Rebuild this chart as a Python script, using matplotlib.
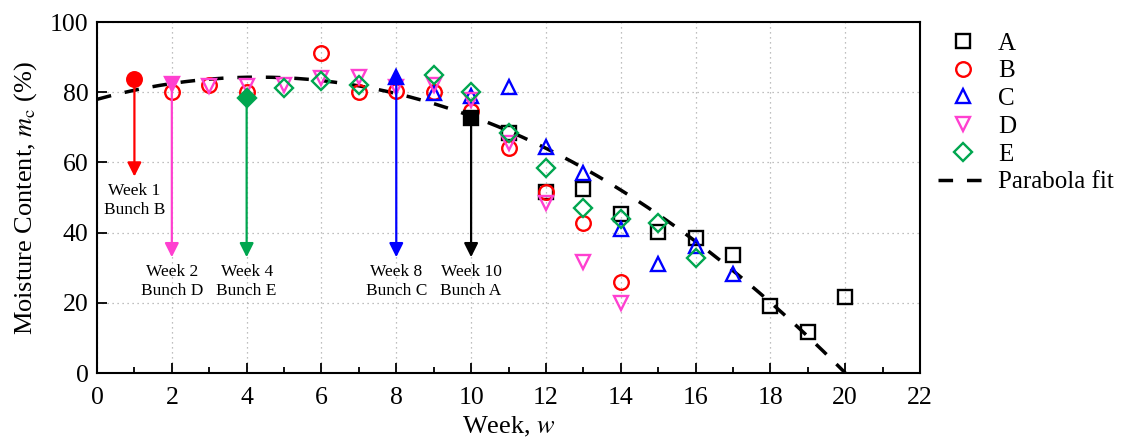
import matplotlib.pyplot as plt
import numpy as np

plt.rcParams['font.family'] = ['Liberation Serif', 'DejaVu Serif']
plt.rcParams['mathtext.fontset'] = 'stix'

# moisture content of each bunch, per week
weeks_A = [10, 11, 12, 13, 14, 15, 16, 17, 18, 19, 20]
mc_A = [72.6, 68.4, 51.6, 52.4, 45.3, 40.2, 38.5, 33.6, 19.1, 11.7, 21.7]

weeks_B = [1, 2, 3, 4, 6, 7, 8, 9, 10, 11, 12, 13, 14]
mc_B = [83.8, 80.2, 82.0, 80.2, 91.3, 80.2, 80.3, 80.2, 74.7, 64.1, 51.7, 42.7, 26.0]

weeks_C = [8, 9, 10, 11, 12, 13, 14, 15, 16, 17]
mc_C = [84.3, 79.8, 79.0, 81.6, 64.4, 57.0, 41.0, 31.0, 36.2, 28.2]

weeks_D = [2, 3, 4, 5, 6, 7, 8, 9, 10, 11, 12, 13, 14]
mc_D = [82.5, 81.8, 81.8, 82.0, 84.0, 84.4, 81.5, 82.0, 77.8, 65.5, 48.4, 31.6, 20.0]

weeks_E = [4, 5, 6, 7, 9, 10, 11, 12, 13, 14, 15, 16]
mc_E = [78.3, 81.3, 83.2, 82.2, 85.0, 80.2, 68.5, 58.5, 47.0, 43.9, 42.7, 32.8]

# parabola fit  mc = c0 + c1*w + c2*w^2
fit_c0, fit_c1, fit_c2 = 78.0, 2.942, -0.342

series = [
    ('A', weeks_A, mc_A, 's', 'black', 9.5),
    ('B', weeks_B, mc_B, 'o', '#ff0000', 10.5),
    ('C', weeks_C, mc_C, '^', '#0000ff', 10.5),
    ('D', weeks_D, mc_D, 'v', '#ff40d0', 10.5),
    ('E', weeks_E, mc_E, 'D', '#00a64f', 9),
]

# first sampled week of every bunch (filled marker + arrow)
arrow_end = {'A': 33, 'B': 56, 'C': 33, 'D': 33, 'E': 33}

fig, ax = plt.subplots(figsize=(11.28, 4.43), dpi=100)
fig.subplots_adjust(left=0.086, right=0.8156, top=0.950, bottom=0.158)

# fit curve, from w=0 to its root
root = (-fit_c1 - np.sqrt(fit_c1**2 - 4 * fit_c2 * fit_c0)) / (2 * fit_c2)
w = np.linspace(0, root, 300)
fit_line, = ax.plot(w, fit_c0 + fit_c1 * w + fit_c2 * w**2, color='black', lw=2.5,
                    dashes=(4.2, 4.0), zorder=2, label='Parabola fit')

handles = []
for name, wk, mc, mk, col, ms in series:
    h, = ax.plot(wk[1:], mc[1:], ls='none', marker=mk, ms=ms, mfc='none',
                 mec=col, mew=1.7, zorder=3, label=name)
    handles.append(h)
    ax.plot(wk[0], mc[0], ls='none', marker=mk, ms=ms, mfc=col, mec=col,
            mew=1.7, zorder=4)
    # arrow down to the label
    ax.annotate('', xy=(wk[0], arrow_end[name]), xytext=(wk[0], mc[0]),
                arrowprops=dict(arrowstyle='-|>', color=col, lw=1.6,
                                mutation_scale=21, shrinkA=0, shrinkB=0),
                zorder=4)
    ax.text(wk[0], arrow_end[name] - 1.8, 'Week %d\nBunch %s' % (wk[0], name),
            ha='center', va='top', fontsize=12.5, linespacing=1.25)

ax.set_xlim(0, 22)
ax.set_ylim(0, 100)
ax.set_xticks(np.arange(0, 23, 2))
ax.set_xticks(np.arange(1, 22, 2), minor=True)
ax.set_yticks(np.arange(0, 101, 20))
ax.tick_params(which='both', direction='in', labelsize=18.5, width=1.3)
ax.tick_params(which='major', length=7)
ax.tick_params(which='minor', length=4)
ax.tick_params(axis='x', pad=10)
ax.tick_params(axis='y', pad=6)
for s in ax.spines.values():
    s.set_linewidth(1.5)
ax.grid(True, ls=(0, (1, 3)), color='#aaaaaa', lw=0.9)
ax.set_axisbelow(True)

ax.set_xlabel('Week, $w$', fontsize=19, labelpad=4)
ax.set_ylabel('Moisture Content, $m_\\mathrm{c}$ (%)', fontsize=19, labelpad=8)

ax.legend(handles + [fit_line], [h.get_label() for h in handles] + ['Parabola fit'],
          loc='upper left', bbox_to_anchor=(1.01, 1.0), frameon=False,
          fontsize=18, handlelength=2.0, handletextpad=0.4, labelspacing=0.21,
          borderaxespad=0)

fig.savefig('out.png', dpi=100)
